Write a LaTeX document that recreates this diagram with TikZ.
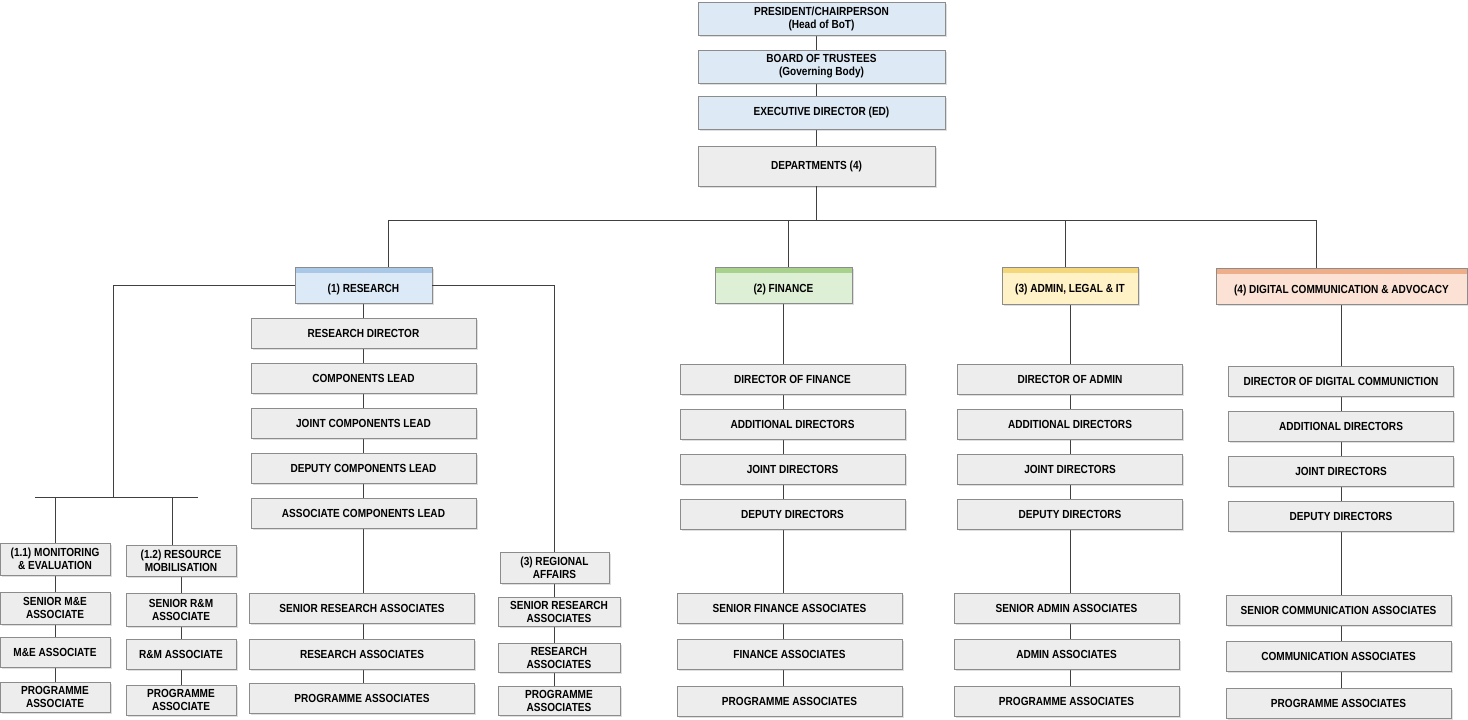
\documentclass[tikz,border=0pt]{standalone}
\usepackage{fontspec}
\setmainfont{Liberation Sans}[FakeStretch=0.86]
\usetikzlibrary{positioning, shadows, backgrounds, calc}

\definecolor{boxgray}{HTML}{EDEDED}
\definecolor{edgegray}{HTML}{8C8C8C}
\definecolor{topblue}{HTML}{DDE9F5}
\definecolor{resfill}{HTML}{DCE9F6}
\definecolor{resband}{HTML}{A9C8E8}
\definecolor{finfill}{HTML}{DDEFD4}
\definecolor{finband}{HTML}{A9D18E}
\definecolor{admfill}{HTML}{FFF2C6}
\definecolor{admband}{HTML}{F4D77A}
\definecolor{digfill}{HTML}{FBE2D5}
\definecolor{digband}{HTML}{EEAE8A}

\begin{document}
\begin{tikzpicture}[x=1pt,y=-1pt,
    post/.style={draw=edgegray, fill=boxgray, line width=0.8pt, align=center,
      font=\bfseries\fontsize{11.7}{13}\selectfont, inner sep=1pt,
      minimum width=225pt, minimum height=30pt,
      drop shadow={shadow xshift=1.5pt, shadow yshift=-1.5pt, opacity=0.25}},
    top/.style={post, fill=topblue, minimum width=247pt, minimum height=33pt},
    dept/.style n args={2}{post, fill=#1, minimum height=36pt,
      text height=16pt, text depth=1.6pt,
      path picture={\fill[#2] (path picture bounding box.north west)
        rectangle ([yshift=-6pt]path picture bounding box.north east);}},
    sub/.style={post, minimum width=110pt, minimum height=31pt},
    link/.style={draw=black!75, line width=0.9pt}]
  \useasboundingbox (0,0) rectangle (1468,720);

  % head office
  \node[top] (pres) at (821.5,18.5) {PRESIDENT/CHAIRPERSON\\(Head of BoT)};
  \node[top] (bot) at (821.5,66.5) {BOARD OF TRUSTEES\\(Governing Body)};
  \node[top] (ed) at (821.5,112.5) {EXECUTIVE DIRECTOR (ED)};
  \node[post, minimum width=237pt, minimum height=40pt] (dep) at (816.5,166) {DEPARTMENTS (4)};

  % departments
  \node[dept={resfill}{resband}, minimum width=137pt] (res) at (363.5,285) {(1) RESEARCH};
  \node[dept={finfill}{finband}, minimum width=137pt] (fin) at (783.5,285) {(2) FINANCE};
  \node[dept={admfill}{admband}, minimum width=136pt, minimum height=37pt] (adm) at (1070,285.5) {(3) ADMIN, LEGAL \& IT};
  \node[dept={digfill}{digband}, minimum width=251pt] (dig) at (1341.5,286) {(4) DIGITAL COMMUNICATION \& ADVOCACY};

  % research column
  \foreach \t [count=\i] in {RESEARCH DIRECTOR, COMPONENTS LEAD, JOINT COMPONENTS LEAD,
      DEPUTY COMPONENTS LEAD, ASSOCIATE COMPONENTS LEAD}
    \node[post] (res\i) at (363.5,288+45*\i) {\t};
  \foreach \t/\y [count=\i from 6] in {SENIOR RESEARCH ASSOCIATES/608,
      RESEARCH ASSOCIATES/654, PROGRAMME ASSOCIATES/698}
    \node[post] (res\i) at (362,\y) {\t};

  % finance, admin and digital columns
  \foreach \col/\xu/\xl/\dy/\dirt/\lo in {fin/792.5/789.5/0/FINANCE/FINANCE,
      adm/1070/1066.5/0/ADMIN/ADMIN,
      dig/1341/1338.5/2/DIGITAL COMMUNICTION/COMMUNICATION}{
    \foreach \t [count=\i] in {DIRECTOR OF \dirt, ADDITIONAL DIRECTORS,
        JOINT DIRECTORS, DEPUTY DIRECTORS}
      \node[post] (\col\i) at (\xu,334+45*\i+\dy) {\t};
    \foreach \t/\y [count=\i from 5] in {SENIOR \lo{} ASSOCIATES/608,
        \lo{} ASSOCIATES/654, PROGRAMME ASSOCIATES/701}
      \node[post] (\col\i) at (\xl,\y+\dy) {\t};
  }

  % research sub-units
  \node[sub, minimum height=32pt] (me) at (55,559) {(1.1) MONITORING\\\& EVALUATION};
  \node[sub, minimum height=32pt] (me1) at (55,608) {SENIOR M\&E\\ASSOCIATE};
  \node[sub, minimum height=30pt] (me2) at (55,652) {M\&E ASSOCIATE};
  \node[sub, minimum height=30pt] (me3) at (55,697) {PROGRAMME\\ASSOCIATE};
  \node[sub] (rm) at (181,560.5) {(1.2) RESOURCE\\MOBILISATION};
  \node[sub, minimum height=33pt] (rm1) at (181,609.5) {SENIOR R\&M\\ASSOCIATE};
  \node[sub, minimum height=30pt] (rm2) at (181,654) {R\&M ASSOCIATE};
  \node[sub, minimum height=30pt] (rm3) at (181,700) {PROGRAMME\\ASSOCIATE};
  \node[sub, minimum width=109pt] (reg) at (554.5,567.5) {(3) REGIONAL\\AFFAIRS};
  \foreach \t/\y [count=\i] in {SENIOR RESEARCH\\ASSOCIATES/611.5,
      RESEARCH\\ASSOCIATES/657.5, PROGRAMME\\ASSOCIATES/700.5}
    \node[sub, minimum width=122pt, minimum height=29pt] (reg\i) at (559,\y) {\t};

  % connectors
  \coordinate (bus) at (816.5,220);
  \coordinate (busW) at (388,220);
  \coordinate (busE) at (1316,220);
  \foreach \d/\x in {res/388, fin/788, adm/1065, dig/1316}{
    \coordinate (b\d) at (\x,220);
    \draw[link] (b\d) -- (b\d |- \d.north);
  }
  \draw[link] (dep.south) -- (bus);
  \draw[link] (busW) -- (busE);

  \coordinate (subtop) at (113,497);
  \coordinate (barW) at (35,497);
  \coordinate (barE) at (198,497);
  \coordinate (rmdrop) at (172,497);
  \draw[link] (res.west) -| (subtop);
  \draw[link] (barW) -- (barE);
  \draw[link] (me.north |- barW) -- (me.north);
  \draw[link] (rmdrop) -- (rmdrop |- rm.north);
  \draw[link] (res.east) -| (reg.north);

  \begin{scope}[on background layer]
    \draw[link] (pres.south -| dep.north) -- (dep.north);
    \draw[link] (res.south) -- (res.south |- res8.north);
    \foreach \col in {fin, adm, dig}
      \draw[link] (\col.south) -- (\col.south |- \col7.north);
    \draw[link] (me.south) -- (me3.north);
    \draw[link] (rm.south) -- (rm3.north);
    \draw[link] (reg.south) -- (reg.south |- reg3.north);
  \end{scope}
\end{tikzpicture}
\end{document}
